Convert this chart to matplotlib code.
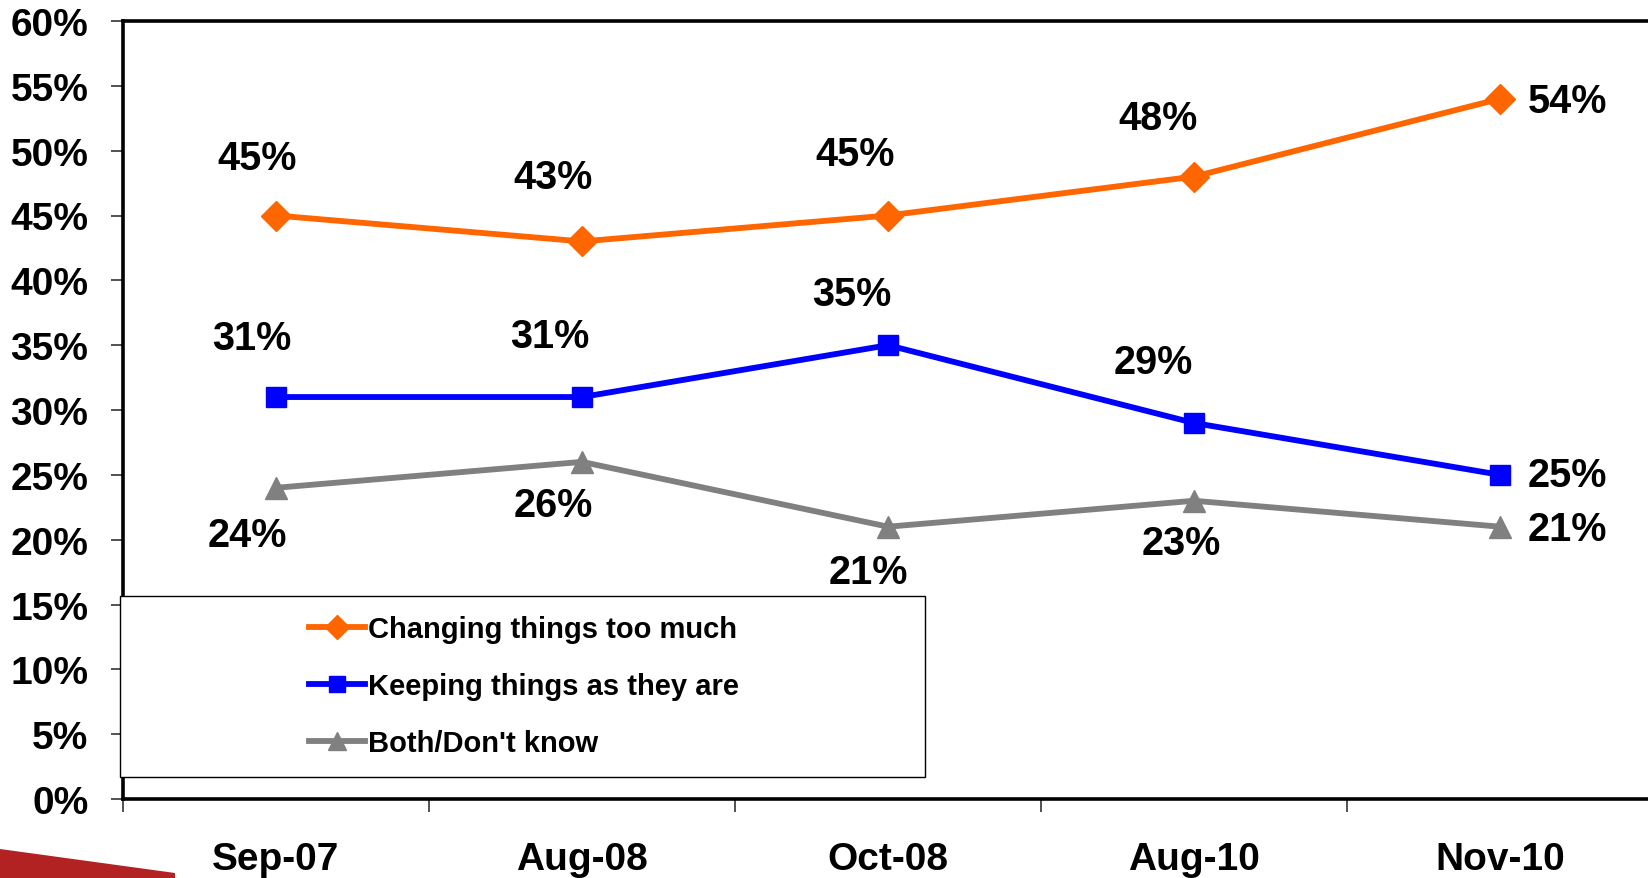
import matplotlib
matplotlib.use("Agg")
import matplotlib.pyplot as plt
from matplotlib.patches import Rectangle, Polygon

plt.rcParams["font.family"] = ["Liberation Sans", "DejaVu Sans"]
plt.rcParams["font.weight"] = "bold"

# data
dates = ["Sep-07", "Aug-08", "Oct-08", "Aug-10", "Nov-10"]
changing = [45, 43, 45, 48, 54]
keeping = [31, 31, 35, 29, 25]
both = [24, 26, 21, 23, 21]
series_names = ["Changing things too much", "Keeping things as they are", "Both/Don't know"]
yticks = list(range(0, 61, 5))

# label offsets in pixels (dx, dy) per point
off_changing = [(-19, 57), (-29, 64), (-33, 62), (-36, 59), (67, -2)]
off_keeping = [(-24, 59), (-32, 61), (-36, 51), (-41, 61), (67, 0)]
off_both = [(-29, -47), (-29, -43), (-20, -45), (-13, -42), (67, -2)]

W, H = 1648, 879
fig = plt.figure(figsize=(W / 100, H / 100), dpi=100)
ax = fig.add_axes([123 / W, 79 / H, 1530 / W, 778 / H])

x = list(range(len(dates)))
styles = [
    (changing, "#FF6600", "D", 15, off_changing),
    (keeping, "#0000FF", "s", 15, off_keeping),
    (both, "#808080", "^", 16, off_both),
]
for (vals, col, mk, ms, offs), name in zip(styles, series_names):
    ax.plot(x, vals, color=col, lw=4.2, marker=mk, ms=ms, mec=col, mfc=col,
            label=name, clip_on=False, zorder=3)
    for xi, v, (dx, dy) in zip(x, vals, offs):
        ax.annotate(f"{v}%", (xi, v), xytext=(dx, dy), textcoords="offset pixels",
                    ha="center", va="center", fontsize=28.5, fontweight="bold")

ax.set_xlim(-0.5, 4.5)
ax.set_ylim(0, 60)
ax.set_yticks(yticks)
ax.set_yticklabels([f"{t}%" for t in yticks], fontsize=28, fontweight="bold")
ax.set_xticks(x)
ax.set_xticklabels(dates, fontsize=28, fontweight="bold")
ax.set_xticks([i - 0.5 for i in range(len(dates) + 1)], minor=True)
ax.tick_params(axis="x", which="major", length=0, pad=30)
ax.tick_params(axis="x", which="minor", length=9, width=1.2, color="#333333", direction="out")
ax.tick_params(axis="y", length=9, width=1.2, color="#333333", direction="out", pad=16)
for s in ax.spines.values():
    s.set_linewidth(2.6)
    s.set_color("black")

# legend box
fig.patches.append(Rectangle((120 / W, 1 - 778 / H), 805 / W, 181 / H,
                             transform=fig.transFigure, facecolor="white",
                             edgecolor="black", lw=1.0, zorder=3))
leg = fig.legend(loc="center left", bbox_to_anchor=(294 / W, 1 - 687 / H),
                 frameon=False, prop={"size": 21, "weight": "bold"},
                 handlelength=1.95, handletextpad=0.08, labelspacing=1.0,
                 borderpad=0, markerscale=0.8)
leg.set_zorder(5)

# decorative swoosh bottom-left
fig.patches.append(Polygon([(0, 1 - 850 / H), (175 / W, 1 - 874 / H), (175 / W, 0), (0, 0)],
                           closed=True, transform=fig.transFigure,
                           facecolor="#B22222", edgecolor="none", zorder=1))

fig.savefig("out.png", dpi=100)
